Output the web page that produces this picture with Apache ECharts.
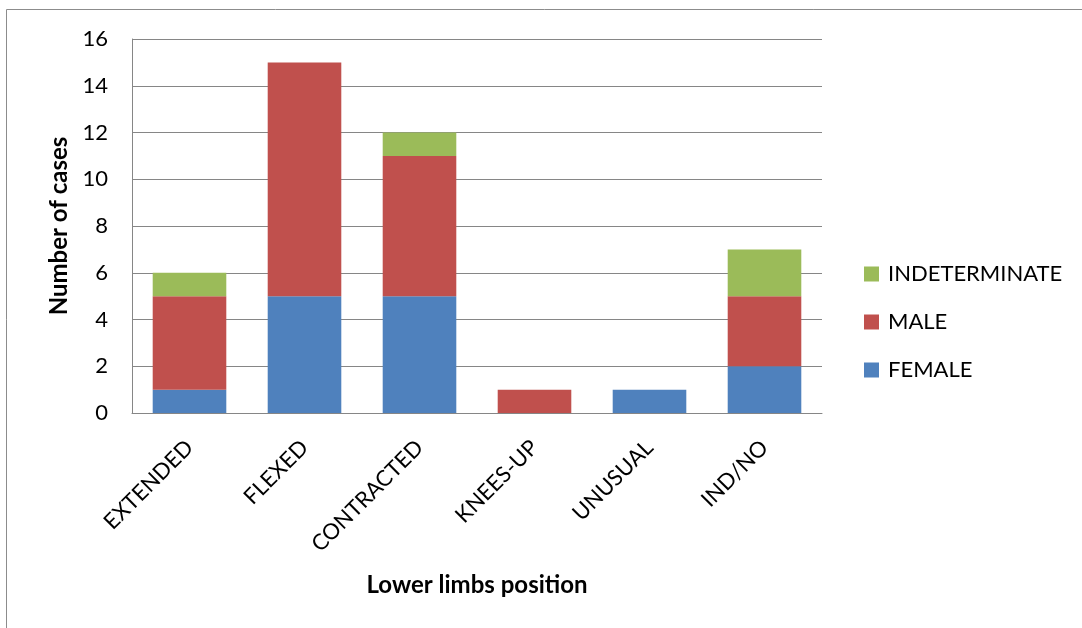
<!DOCTYPE html>
<html><head><meta charset="utf-8">
<script src="https://cdn.jsdelivr.net/npm/echarts@6/dist/echarts.min.js"></script>
<style>html,body{margin:0;padding:0;background:#fff}#c{width:1082px;height:628px}</style>
</head><body><div id="c"></div>
<script>
const categories = ['EXTENDED','FLEXED','CONTRACTED','KNEES-UP','UNUSUAL','IND/NO'];
const female = [1,5,5,0,1,2];
const male = [4,10,6,1,0,3];
const indeterminate = [1,0,1,0,0,2];
const yTicks = {min:0,max:16,interval:2};

const font = 'Lato, "Open Sans", sans-serif';
const chart = echarts.init(document.getElementById('c'));
const mk = (name, data, color) => ({
  name, type:'bar', stack:'s', data, barCategoryGap:'36%',
  itemStyle:{color}, emphasis:{disabled:true}
});
chart.setOption({
  animation:false,
  backgroundColor:'#fff',
  graphic:[{type:'rect',shape:{x:6.5,y:9.5,width:1200,height:1000},style:{fill:null,stroke:'#8c8c8c',lineWidth:1}}],
  grid:{left:132,right:260,top:39,bottom:215,containLabel:false},
  legend:{
    orient:'vertical', left:864, top:263, padding:0, itemGap:26, itemWidth:15, itemHeight:15,
    icon:'rect', textStyle:{fontFamily:font,fontSize:22,color:'#000',padding:[0,0,0,4]},
    data:['INDETERMINATE','MALE','FEMALE']
  },
  xAxis:{
    type:'category', data:categories,
    name:'Lower limbs position', nameLocation:'middle', nameGap:160,
    nameTextStyle:{fontFamily:font,fontSize:24,fontWeight:'bold',color:'#000'},
    axisLine:{lineStyle:{color:'#868686'}}, axisTick:{show:false},
    axisLabel:{rotate:45,fontFamily:font,fontSize:22,color:'#000',margin:31,interval:0}
  },
  yAxis:{
    type:'value', min:yTicks.min, max:yTicks.max, interval:yTicks.interval,
    name:'Number of cases', nameLocation:'middle', nameGap:60,
    nameTextStyle:{fontFamily:font,fontSize:24,fontWeight:'bold',color:'#000'},
    axisLine:{show:true,lineStyle:{color:'#868686'}}, axisTick:{show:false},
    axisLabel:{fontFamily:font,fontSize:22,color:'#000',margin:24},
    splitLine:{lineStyle:{color:'#868686'}}
  },
  series:[
    mk('FEMALE', female, '#4F81BD'),
    mk('MALE', male, '#C0504D'),
    mk('INDETERMINATE', indeterminate, '#9BBB59')
  ]
});
</script></body></html>
